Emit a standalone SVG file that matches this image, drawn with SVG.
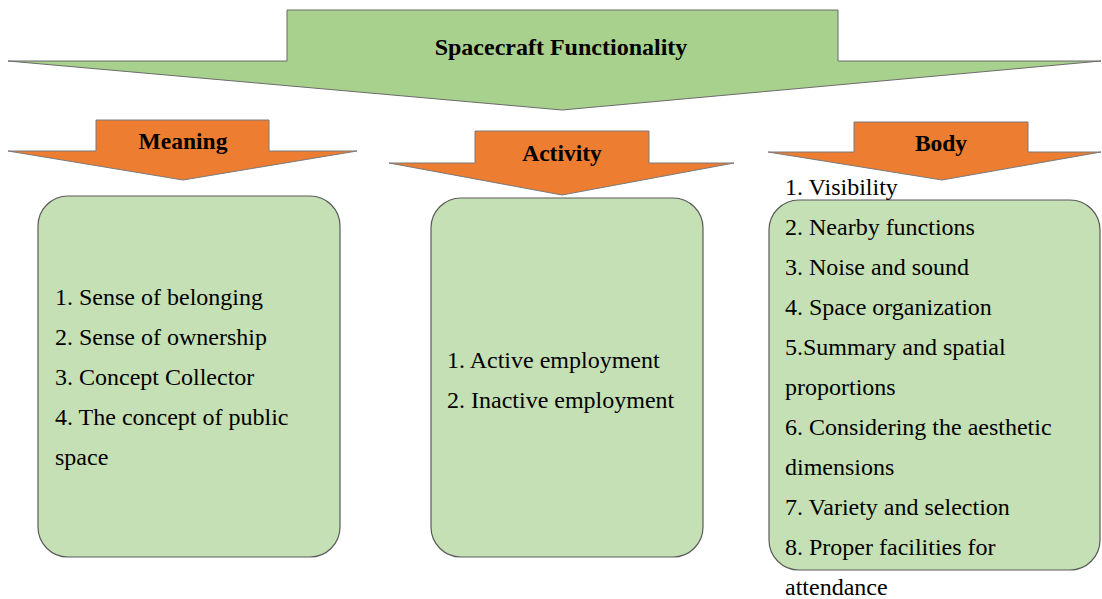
<svg xmlns="http://www.w3.org/2000/svg" width="1102" height="599" viewBox="0 0 1102 599">
<style>
.big{fill:#a9d18e;stroke:#6b6b6b;stroke-width:1}
.org{fill:#ed7d31;stroke:#7a7a7a;stroke-width:1}
.box{fill:#c5e0b4;stroke:#5a5a5a;stroke-width:1.2}
.lbl{font-weight:bold;fill:#000;text-anchor:middle}
.item{font-size:24px;fill:#000}
</style>
<rect width="1102" height="599" fill="#fff"/>
<g font-family="'Liberation Serif', Tinos, 'Times New Roman', serif">
<g id="title">
<polygon class="big" points="287,10 838,10 838,61 1101,61 562,110 8,61 287,61"/>
<text class="lbl" x="561" y="55" font-size="24">Spacecraft Functionality</text>
</g>
<g id="meaning">
<polygon class="org" points="96,120 269,120 269,151 357,151 183,180 8,151 96,151"/>
<text class="lbl" x="183" y="149" font-size="23.5">Meaning</text>
<rect class="box" x="38" y="196" width="302" height="361" rx="30"/>
<text class="item" x="55" y="305">1. Sense of belonging</text>
<text class="item" x="55" y="345">2. Sense of ownership</text>
<text class="item" x="55" y="385">3. Concept Collector</text>
<text class="item" x="55" y="425">4. The concept of public</text>
<text class="item" x="55" y="465">space</text>
</g>
<g id="activity">
<polygon class="org" points="475,131 649,131 649,163 734,163 562,195 389,163 475,163"/>
<text class="lbl" x="562" y="161" font-size="23.5">Activity</text>
<rect class="box" x="431" y="198" width="272" height="359" rx="30"/>
<text class="item" x="447" y="368">1. Active employment</text>
<text class="item" x="447" y="408">2. Inactive employment</text>
</g>
<g id="body">
<polygon class="org" points="854,122 1028,122 1028,152 1101,152 942,180 768,152 854,152"/>
<text class="lbl" x="941" y="151" font-size="23.5">Body</text>
<rect class="box" x="769" y="200" width="331" height="370" rx="30"/>
<text class="item" x="785" y="195">1. Visibility</text>
<text class="item" x="785" y="235">2. Nearby functions</text>
<text class="item" x="785" y="275">3. Noise and sound</text>
<text class="item" x="785" y="315">4. Space organization</text>
<text class="item" x="785" y="355">5.Summary and spatial</text>
<text class="item" x="785" y="395">proportions</text>
<text class="item" x="785" y="435">6. Considering the aesthetic</text>
<text class="item" x="785" y="475">dimensions</text>
<text class="item" x="785" y="515">7. Variety and selection</text>
<text class="item" x="785" y="555">8. Proper facilities for</text>
<text class="item" x="785" y="595">attendance</text>
</g>
</g>
<g id="connectors"></g>
</svg>
